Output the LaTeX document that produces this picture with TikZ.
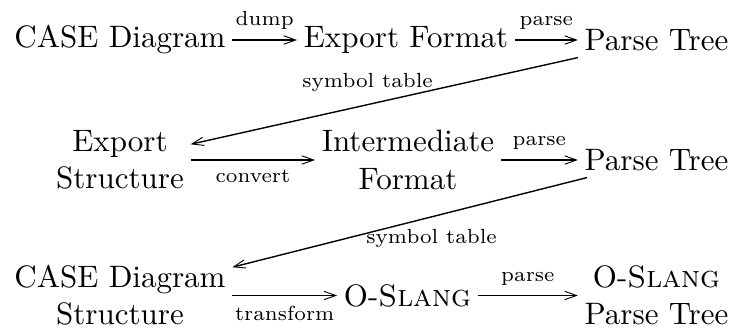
\documentclass[tikz,border=0pt]{standalone}
\usetikzlibrary{arrows.meta}
\begin{document}
\begin{tikzpicture}[x=0.3226pt,y=-0.3226pt,
  obj/.style={inner sep=2pt, align=center, font=\normalsize},
  lbl/.style={font=\fontsize{6.6}{8}\selectfont, inner sep=3pt},
  tipx/.tip={Straight Barb[length=3.8pt,width=2.7pt,line width=0.3pt]},
  harr/.style={line width=0.6pt, -tipx},
  darr/.style={line width=0.45pt, -tipx}]
\useasboundingbox (0,0) rectangle (738,327);
% row 1
\node[obj] (cd)   at (120,40)    {CASE Diagram};
\node[obj] (ef)   at (406,40)    {Export Format};
\node[obj] (pt1)  at (656.5,40)  {Parse Tree};
% row 2
\node[obj] (es)   at (120,160)   {Export\\Structure};
\node[obj] (if)   at (408,160)   {Intermediate\\Format};
\node[obj] (pt2)  at (656.5,160) {Parse Tree};
% row 3
\node[obj] (cds)  at (120,295.5) {CASE Diagram\\Structure};
\node[obj] (os)   at (407.5,295.5) {O-\textsc{Slang}};
\node[obj] (ospt) at (656.5,295.5) {O-\textsc{Slang}\\Parse Tree};
% horizontal arrows
\draw[harr] (cd)  -- node[lbl,above] {dump} (ef);
\draw[harr] (ef)  -- node[lbl,above] {parse} (pt1);
\draw[harr] (es)  -- node[lbl,below] {convert} (if);
\draw[harr] (if)  -- node[lbl,above] {parse} (pt2);
\draw[harr] (cds) -- node[lbl,below] {transform} (os);
\draw[harr] (os)  -- node[lbl,above] {parse} (ospt);
% diagonal arrows
\draw[darr] (pt1) -- node[lbl,pos=0.543,yshift=7.3pt] {symbol table} (es);
\draw[darr] (pt2) -- node[lbl,pos=0.438,yshift=-7.0pt] {symbol table} (cds);
\end{tikzpicture}
\end{document}
